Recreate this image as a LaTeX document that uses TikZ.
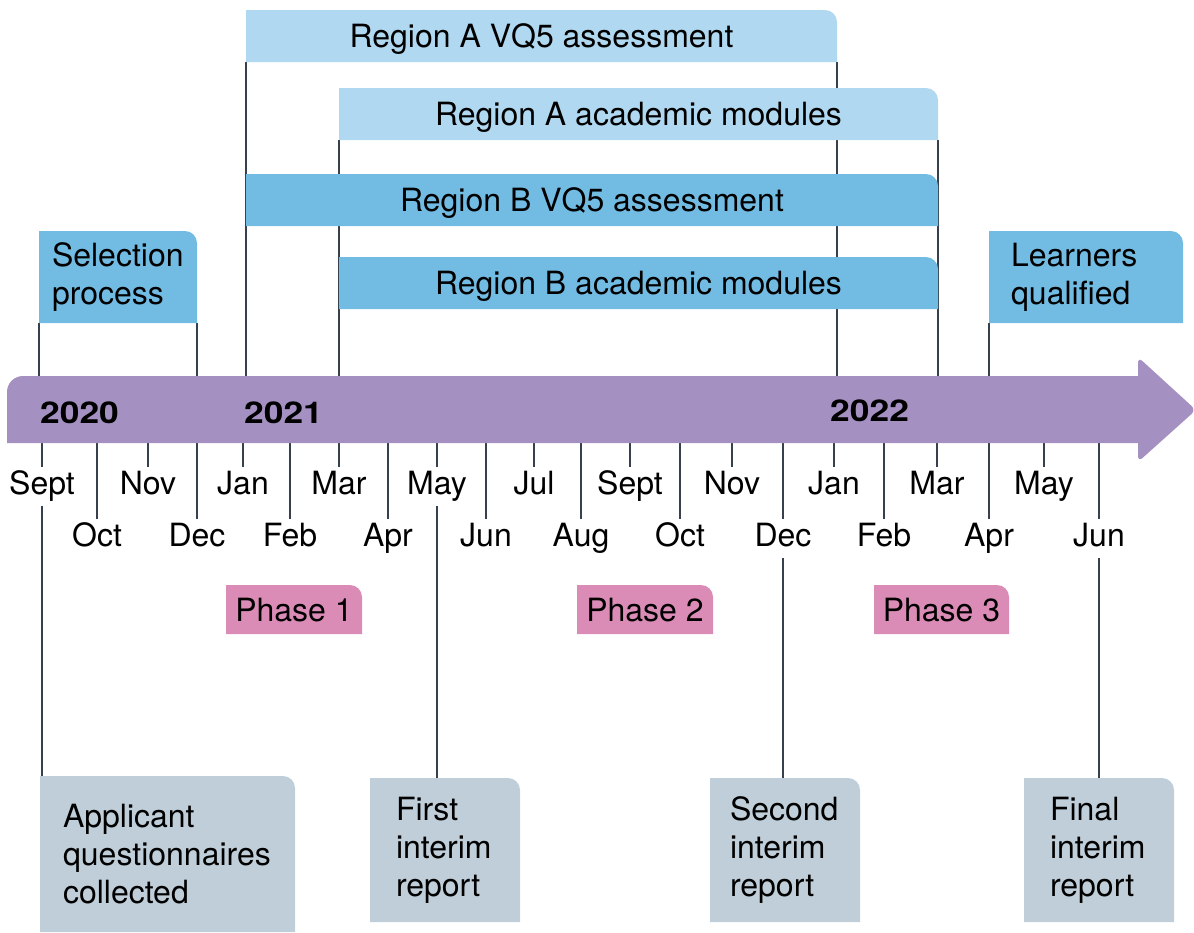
\documentclass[tikz,border=0pt]{standalone}
\usepackage{fontspec}
\setmainfont{TeX Gyre Heros}
\newfontfamily\yearfont[FakeStretch=1.18]{TeX Gyre Heros}
\definecolor{barPurple}{HTML}{A491C2}
\definecolor{lightBlue}{HTML}{B0D8F0}
\definecolor{midBlue}{HTML}{72BCE4}
\definecolor{phasePink}{HTML}{DA8BB6}
\definecolor{noteGrey}{HTML}{BFCED8}
\definecolor{stemGrey}{HTML}{36414D}
\pgfdeclarelayer{stems}
\pgfsetlayers{stems,main}

\begin{document}
\begin{tikzpicture}[x=1pt,y=-1pt,
	txt/.style={font=\fontsize{32}{38}\selectfont},
	flag/.style={txt, inner sep=0pt, outer sep=0pt, anchor=north west,
		path picture={\fill[#1] (path picture bounding box.south west) -- (path picture bounding box.north west) [rounded corners=12pt] -- (path picture bounding box.north east) [sharp corners] -- (path picture bounding box.south east) -- cycle;}},
	oneline/.style={text height=23pt, text depth=0pt},
	stem/.style={stemGrey, line width=2.5pt},
	month/.style={txt, anchor=base, text height=23pt, text depth=8pt, inner sep=4pt},
	year/.style={font=\fontsize{30}{36}\yearfont\bfseries, anchor=base west, inner sep=0pt}]
	\useasboundingbox (0,0) rectangle (1194,932);
	\coordinate (barTop) at (0,380);

	%flags hanging above the timeline
	\node[flag=lightBlue, oneline, minimum width=591pt, minimum height=52pt] (vqA) at (246,10) {Region A VQ5 assessment};
	\node[flag=lightBlue, oneline, minimum width=599pt, minimum height=52pt] (modA) at (339,88) {Region A academic modules};
	\node[flag=midBlue, oneline, minimum width=692pt, minimum height=52pt] (vqB) at (246,174) {Region B VQ5 assessment};
	\node[flag=midBlue, oneline, minimum width=599pt, minimum height=52pt] (modB) at (339,257) {Region B academic modules};
	\node[flag=midBlue, minimum height=92pt, inner xsep=13pt, text width=132pt, align=left] (select) at (39,231) {Selection\\process};
	\node[flag=midBlue, minimum height=92pt, inner xsep=22pt, text width=150pt, align=left] (qual) at (989,231) {Learners\\qualified};

	%stems from the flags down to the bar
	\begin{pgfonlayer}{stems}
		\draw[stem] (select.south west) -- (select.south west |- barTop);
		\draw[stem] (select.south east) -- (select.south east |- barTop);
		\draw[stem] (vqA.south west) -- (vqA.south west |- barTop);
		\draw[stem] (vqA.south east) -- (vqA.south east |- barTop);
		\draw[stem] (modA.south west) -- (modA.south west |- barTop);
		\draw[stem] (modA.south east) -- (modA.south east |- barTop);
		\draw[stem] (qual.south west) -- (qual.south west |- barTop);
	\end{pgfonlayer}

	%the timeline arrow
	\fill[barPurple] (7,443) [rounded corners=16pt] -- (7,376) [sharp corners] -- (1138,376) [rounded corners=6pt] -- (1138,357) -- (1196,410) -- (1138,462) [sharp corners] -- (1138,443) -- cycle;
	\node[year] (y20) at (40,423) {2020};
	\node[year] (y21) at (244,423) {2021};
	\node[year] (y22) at (830,421) {2022};

	%months, alternating between two rows
	\foreach \m/\x [count=\i] in {Sept/42, Oct/97, Nov/148, Dec/197, Jan/243, Feb/290, Mar/339, Apr/388, May/437, Jun/486, Jul/534,
		Aug/581, Sept/630, Oct/680, Nov/732, Dec/783, Jan/834, Feb/884, Mar/937, Apr/989, May/1044, Jun/1099}{
		\ifodd\i\relax \def\base{494}\else \def\base{546}\fi
		\node[month] (lab\i) at (\x,\base) {\m};
		\coordinate (m\i) at (\x,440);
		\begin{pgfonlayer}{stems}
			\draw[stem] (m\i) -- (lab\i.north);
		\end{pgfonlayer}
	}

	%phases
	\node[flag=phasePink, oneline, minimum width=136pt, minimum height=49pt] (ph1) at (226,585) {Phase 1};
	\node[flag=phasePink, oneline, minimum width=136pt, minimum height=49pt] (ph2) at (577,585) {Phase 2};
	\node[flag=phasePink, oneline, minimum width=135pt, minimum height=49pt] (ph3) at (874,585) {Phase 3};

	%notes below the timeline
	\node[flag=noteGrey, minimum height=156pt, inner xsep=23pt, text width=209pt, align=left] (appl) at (40,776) {Applicant\\questionnaires\\collected};
	\node[flag=noteGrey, minimum height=144pt, inner xsep=26pt, text width=98pt, align=left] (first) at (370,778) {First\\interim\\report};
	\node[flag=noteGrey, minimum height=144pt, inner xsep=20pt, text width=110pt, align=left] (second) at (710,778) {Second\\interim\\report};
	\node[flag=noteGrey, minimum height=144pt, inner xsep=26pt, text width=98pt, align=left] (final) at (1024,778) {Final\\interim\\report};
	\draw[stem] (lab1.south) -- (lab1.south |- appl.north);
	\draw[stem] (lab9.south) -- (lab9.south |- first.north);
	\draw[stem] (lab16.south) -- (lab16.south |- second.north);
	\draw[stem] (lab22.south) -- (lab22.south |- final.north);
\end{tikzpicture}
\end{document}
